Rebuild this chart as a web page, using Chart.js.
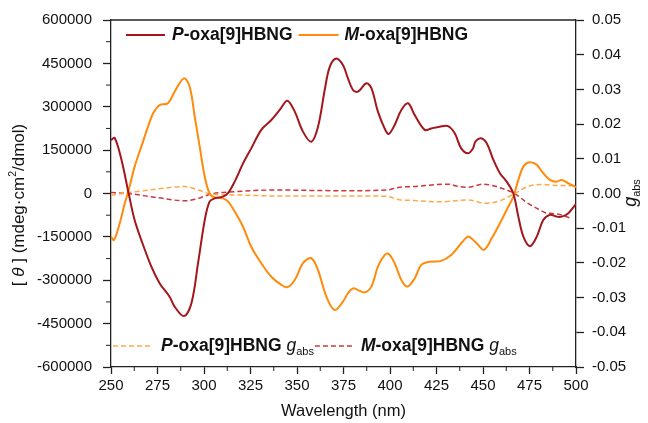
<!DOCTYPE html>
<html><head><meta charset="utf-8">
<script src="https://cdn.jsdelivr.net/npm/chart.js@4/dist/chart.umd.min.js"></script>
<style>html,body{margin:0;padding:0;background:#fff}#wrap{width:648px;height:423px;position:relative}</style>
</head><body><div id="wrap"><canvas id="c" width="648" height="423"></canvas></div>
<script>
// ---- data ----
const pWavelength = [250,252,255.5,259.5,262.7,266.3,271.7,276.2,281.5,284.2,289.2,293.2,296.8,300.4,303,305.7,310.2,313,316.5,321,325.4,330.8,336.2,340.7,344.8,348.8,353.2,357.7,361.3,364.9,367.6,371.1,374.7,377.4,380.1,382.8,387.3,390,393.5,397.1,399.3,402.5,406.1,409.7,413.3,418.7,422.2,426.7,431.2,434.8,438.3,441.9,444.5,446,448.8,452,455.6,459.1,462.7,466.3,469,471.7,475.3,478.9,482.4,486,489.6,492.3,495.9,499.5,500];
const pTheta = [185000,192000,120000,0,-92000,-161000,-253000,-311000,-357000,-391000,-424000,-380000,-241000,-92000,-28000,-17000,-11000,2000,41000,104000,156000,220000,254000,289000,321000,283000,214000,179000,231000,358000,438000,467000,444000,398000,358000,352000,381000,364000,283000,225000,206000,237000,289000,312000,271000,220000,225000,231000,233000,208000,156000,139000,155000,180000,191000,174000,116000,70000,41000,0,-80000,-149000,-182000,-149000,-92000,-74000,-80000,-80000,-68000,-40000,-36000];

const mWavelength = [250,251.6,254.7,257.4,259.5,262.7,266.3,269.9,272.6,276.2,280.6,284.2,289.2,292.3,295,297.7,300.4,303,305.7,310.2,313,316.5,321,325.4,330.8,336.2,341.6,344.8,348.8,353.2,357.7,361.3,365.8,370.3,374.7,377.4,380.1,382.8,386.4,390,393.5,397.1,399.3,402.5,406.1,409.3,413.3,416.8,421.3,427.5,432.9,438.3,441.9,444.6,446.6,450.5,454.7,459.1,462.7,466.3,469,471.7,474.9,478.9,482.4,486,489.6,492.3,495.9,499.5,500];
const mTheta = [-149000,-161000,-103000,-34000,12000,93000,162000,231000,277000,306000,312000,352000,398000,369000,266000,162000,58000,0,-14000,-17000,-28000,-62000,-115000,-184000,-241000,-288000,-316000,-324000,-299000,-241000,-224000,-265000,-357000,-403000,-374000,-345000,-328000,-334000,-342000,-322000,-253000,-213000,-209000,-241000,-299000,-322000,-293000,-247000,-236000,-233000,-213000,-172000,-149000,-160000,-172000,-195000,-155000,-103000,-57000,-11000,47000,93000,108000,99000,70000,47000,41000,47000,35000,24000,22000];

const pgWavelength = [250,259,275,289.5,297,304,316,338,375,398,405,412,428,437,442,451.5,460,467,474,481,490,500];
const pgAbs = [-0.0005,0.0002,0.0013,0.002,0.001,-0.0002,-0.0004,-0.0007,-0.0007,-0.0008,-0.0018,-0.002,-0.0024,-0.002,-0.0019,-0.0028,-0.0019,0,0.002,0.0026,0.0023,0.0022];

const mgWavelength = [250,259,275,289.5,297,304,316,338,375,398,405,412,431,437,442,450,460,467,474,479,484,490,498];
const mgAbs = [0.0003,0,-0.0012,-0.0021,-0.0014,-0.0001,0.0005,0.001,0.0008,0.001,0.0018,0.002,0.0027,0.002,0.0018,0.0027,0.0015,0,-0.0028,-0.0043,-0.0056,-0.0059,-0.0073];

const xTicks = [250,275,300,325,350,375,400,425,450,475,500];
const yTicks = [-600000,-450000,-300000,-150000,0,150000,300000,450000,600000];
const y2Ticks = [-0.05,-0.04,-0.03,-0.02,-0.01,0,0.01,0.02,0.03,0.04,0.05];

const seriesNames = ['-oxa[9]HBNG','-oxa[9]HBNG'];

// ---- styling ----
const FONT = '"Liberation Sans", Arial, Helvetica, sans-serif';
const C_P = '#a3161b';
const C_M = '#ff8a0c';
const C_PG = '#ffa848';
const C_MG = '#c8383d';

function pts(xs, ys){ return xs.map((x,i)=>({x:x, y:ys[i]})); }

function drawRich(ctx, x, y, parts){
  let cx = x;
  for (const p of parts){
    ctx.font = p.font;
    ctx.fillText(p.t, cx, y + (p.dy||0));
    cx += ctx.measureText(p.t).width;
  }
  return cx;
}
function richWidth(ctx, parts){
  let w=0; for(const p of parts){ctx.font=p.font; w+=ctx.measureText(p.t).width;} return w;
}

const decor = {
  id:'decor',
  afterDraw(chart){
    const ctx = chart.ctx, a = chart.chartArea;
    const xs = chart.scales.x, ys = chart.scales.y;
    ctx.save();
    ctx.strokeStyle = '#222'; ctx.lineWidth = 1.3;
    // top frame
    ctx.beginPath(); ctx.moveTo(a.left, a.top); ctx.lineTo(a.right, a.top); ctx.stroke();
    // minor ticks
    ctx.lineWidth = 1;
    ctx.beginPath();
    for (let i=0;i<yTicks.length-1;i++){
      const v = (yTicks[i]+yTicks[i+1])/2, py = ys.getPixelForValue(v);
      ctx.moveTo(a.left-5, py); ctx.lineTo(a.left, py);
    }
    for (let i=0;i<xTicks.length-1;i++){
      const v = (xTicks[i]+xTicks[i+1])/2, px = xs.getPixelForValue(v);
      ctx.moveTo(px, a.bottom); ctx.lineTo(px, a.bottom+4);
    }
    ctx.stroke();

    ctx.fillStyle = '#111';
    ctx.textBaseline = 'middle';
    // top legend
    const b17 = 'bold 17.5px '+FONT, bi17 = 'italic bold 17.5px '+FONT;
    let ly = a.top + 15;
    ctx.lineWidth = 2;
    ctx.strokeStyle = C_P; ctx.beginPath(); ctx.moveTo(a.left+15, ly); ctx.lineTo(a.left+54, ly); ctx.stroke();
    let ex = drawRich(ctx, a.left+61, ly, [{t:'P',font:bi17},{t:seriesNames[0],font:b17}]);
    ctx.strokeStyle = C_M; ctx.beginPath(); ctx.moveTo(ex+6, ly); ctx.lineTo(ex+46, ly); ctx.stroke();
    drawRich(ctx, ex+52, ly, [{t:'M',font:bi17},{t:seriesNames[1],font:b17}]);

    // bottom legend
    ly = a.bottom - 21;
    const i17 = 'italic 17.5px '+FONT, s11 = '11px '+FONT;
    ctx.lineWidth = 1.5; ctx.setLineDash([5,3]);
    ctx.strokeStyle = C_PG; ctx.beginPath(); ctx.moveTo(a.left+2, ly); ctx.lineTo(a.left+42, ly); ctx.stroke();
    ctx.setLineDash([]);
    ex = drawRich(ctx, a.left+50, ly, [{t:'P',font:bi17},{t:seriesNames[0]+' ',font:b17},{t:'g',font:i17},{t:'abs',font:s11,dy:6}]);
    ctx.setLineDash([5,3]);
    ctx.strokeStyle = C_MG; ctx.beginPath(); ctx.moveTo(ex+1, ly); ctx.lineTo(ex+40, ly); ctx.stroke();
    ctx.setLineDash([]);
    drawRich(ctx, ex+47, ly, [{t:'M',font:bi17},{t:seriesNames[1]+' ',font:b17},{t:'g',font:i17},{t:'abs',font:s11,dy:6}]);

    // x title
    ctx.font = '16.5px '+FONT; ctx.textAlign = 'center';
    ctx.fillText('Wavelength (nm)', (a.left+a.right)/2, 411);
    ctx.textAlign = 'left';

    // left title
    const n16 = '17px '+FONT, i16 = 'italic 17px '+FONT, s10 = '10.5px '+FONT;
    const lparts = [{t:'[ ',font:n16},{t:'θ',font:i16},{t:' ] (mdeg·cm',font:n16},{t:'2',font:s10,dy:-6},{t:'/dmol)',font:n16}];
    ctx.save(); ctx.translate(19, 205); ctx.rotate(-Math.PI/2);
    drawRich(ctx, -richWidth(ctx,lparts)/2, 0, lparts);
    ctx.restore();

    // right title
    const rparts = [{t:'g',font:'italic 18px '+FONT},{t:'abs',font:'11px '+FONT,dy:6}];
    ctx.save(); ctx.translate(631, 193); ctx.rotate(-Math.PI/2);
    drawRich(ctx, -richWidth(ctx,rparts)/2, 0, rparts);
    ctx.restore();
    ctx.restore();
  }
};

Chart.defaults.font.family = FONT;
Chart.defaults.color = '#111';

new Chart(document.getElementById('c'), {
  type:'line',
  data:{ datasets:[
    {label:'P', data:pts(pWavelength,pTheta), borderColor:C_P, borderWidth:2, pointRadius:0, tension:0.35, yAxisID:'y'},
    {label:'M', data:pts(mWavelength,mTheta), borderColor:C_M, borderWidth:2, pointRadius:0, tension:0.35, yAxisID:'y'},
    {label:'Pg', data:pts(pgWavelength,pgAbs), borderColor:C_PG, borderWidth:1.5, borderDash:[5,3], pointRadius:0, cubicInterpolationMode:'monotone', yAxisID:'y2'},
    {label:'Mg', data:pts(mgWavelength,mgAbs), borderColor:C_MG, borderWidth:1.5, borderDash:[5,3], pointRadius:0, cubicInterpolationMode:'monotone', yAxisID:'y2'}
  ]},
  options:{
    responsive:false, animation:false, devicePixelRatio:1,
    layout:{padding:{top:20,left:0,right:0,bottom:0}},
    plugins:{legend:{display:false}, tooltip:{enabled:false}},
    scales:{
      x:{type:'linear', min:250, max:500,
        afterBuildTicks(s){ s.ticks = xTicks.map(v=>({value:v})); },
        afterFit(s){ s.height = 56; },
        ticks:{font:{size:15}, padding:3, maxRotation:0, callback:v=>String(v)},
        grid:{drawOnChartArea:false, drawTicks:true, tickLength:7, tickColor:'#222', tickWidth:1.3},
        border:{display:true, color:'#222', width:1.3}},
      y:{type:'linear', position:'left', min:-600000, max:600000,
        afterBuildTicks(s){ s.ticks = yTicks.map(v=>({value:v})); },
        afterFit(s){ s.width = 111; },
        ticks:{font:{size:15}, padding:11, callback:v=>String(v)},
        grid:{drawOnChartArea:false, drawTicks:true, tickLength:8, tickColor:'#222', tickWidth:1.3},
        border:{display:true, color:'#222', width:1.3}},
      y2:{type:'linear', position:'right', min:-0.05, max:0.05,
        afterBuildTicks(s){ s.ticks = y2Ticks.map(v=>({value:v})); },
        afterFit(s){ s.width = 72; },
        ticks:{font:{size:15}, padding:8, callback:v=>Number(v).toFixed(2)},
        grid:{drawOnChartArea:false, drawTicks:true, tickLength:8, tickColor:'#222', tickWidth:1.3},
        border:{display:true, color:'#222', width:1.3}}
    }
  },
  plugins:[decor]
});
</script></body></html>
